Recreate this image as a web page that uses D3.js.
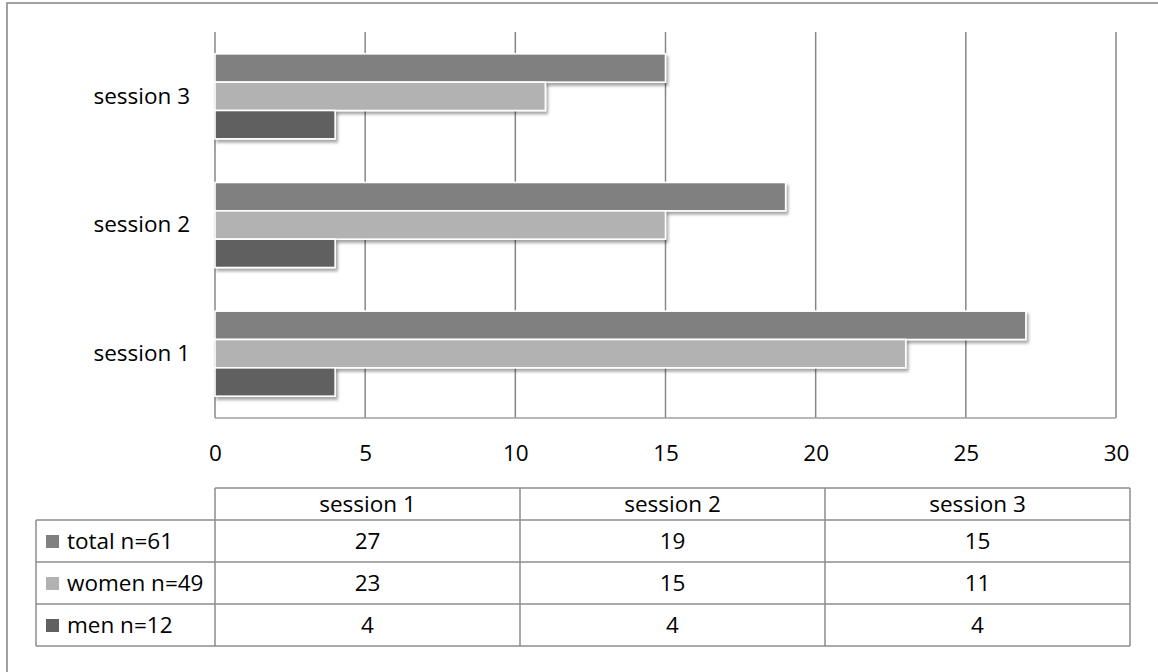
<!DOCTYPE html>
<html>
<head>
<meta charset="utf-8">
<script src="https://cdn.jsdelivr.net/npm/d3@7"></script>
<style>
  html, body { margin: 0; padding: 0; background: #fff; }
  svg { display: block; }
  text { font-family: "Open Sans", "Noto Sans", sans-serif; fill: #000; }
</style>
</head>
<body>
<svg id="chart" width="1158" height="672"></svg>
<script>
// Sessions shown on the category axis (bottom to top) and as table columns
const categories = ["session 1", "session 2", "session 3"];
// Series labels (legend / table rows), in stacking order within each band
const seriesNames = ["total n=61", "women n=49", "men n=12"];
const seriesColors = ["#808080", "#b2b2b2", "#606060"];
// Participant counts per session
const totalValues = [27, 19, 15];
const womenValues = [23, 15, 11];
const menValues = [4, 4, 4];
// Value-axis ticks
const tickValues = [0, 5, 10, 15, 20, 25, 30];

const seriesValues = [totalValues, womenValues, menValues];

const svg = d3.select("#chart");
const fontSize = 22.5;
const gridColor = "#878787";

// Drop shadow for bars
const defs = svg.append("defs");
const f = defs.append("filter").attr("id", "shadow")
  .attr("x", "-5%").attr("y", "-30%").attr("width", "115%").attr("height", "180%");
f.append("feDropShadow").attr("dx", 2).attr("dy", 3).attr("stdDeviation", 1.8)
  .attr("flood-color", "#000").attr("flood-opacity", 0.35);

// Outer chart frame
svg.append("rect").attr("x", 7).attr("y", 3).attr("width", 1160).attr("height", 700)
  .attr("fill", "none").attr("stroke", "#8a8a8a").attr("stroke-width", 1.6);

const plot = { left: 215, right: 1116, top: 32, bottom: 418 };

const x = d3.scaleLinear().domain([0, 30]).range([plot.left, plot.right]);
const y = d3.scaleBand().domain(categories.slice().reverse())
  .range([plot.top, plot.bottom]).padding(0);
const ySeries = d3.scaleBand().domain(seriesNames)
  .range([0, y.bandwidth()]).paddingInner(0).paddingOuter(0.77);

// Vertical gridlines
svg.append("g").selectAll("line").data(tickValues.filter(t => t > 0)).join("line")
  .attr("x1", d => x(d)).attr("x2", d => x(d))
  .attr("y1", plot.top).attr("y2", plot.bottom)
  .attr("stroke", gridColor).attr("stroke-width", 1.5);

// Axis lines (left and bottom)
svg.append("line").attr("x1", plot.left).attr("x2", plot.left)
  .attr("y1", plot.top).attr("y2", plot.bottom)
  .attr("stroke", gridColor).attr("stroke-width", 1.5);
svg.append("line").attr("x1", plot.left).attr("x2", plot.right)
  .attr("y1", plot.bottom).attr("y2", plot.bottom)
  .attr("stroke", "#a0a0a0").attr("stroke-width", 1.5);

// Bars
const bars = [];
categories.forEach((c, ci) => {
  seriesNames.forEach((s, si) => {
    bars.push({ cat: c, series: s, value: seriesValues[si][ci], color: seriesColors[si] });
  });
});
svg.append("g").selectAll("rect").data(bars).join("rect")
  .attr("x", x(0))
  .attr("y", d => y(d.cat) + ySeries(d.series))
  .attr("width", d => x(d.value) - x(0))
  .attr("height", ySeries.bandwidth())
  .attr("fill", d => d.color)
  .attr("stroke", "#fff").attr("stroke-width", 1.6)
  .attr("filter", "url(#shadow)");

// Category labels
const yAxis = d3.axisLeft(y).tickSize(0).tickPadding(25);
const gy = svg.append("g").attr("transform", `translate(${plot.left},0)`).call(yAxis);
gy.select(".domain").remove();
gy.selectAll("text").attr("font-size", fontSize).attr("font-family", null).attr("fill", "#000");

// Value tick labels
const xAxis = d3.axisBottom(x).tickValues(tickValues).tickSize(0).tickPadding(27);
const gx = svg.append("g").attr("transform", `translate(0,${plot.bottom})`).call(xAxis);
gx.select(".domain").remove();
gx.selectAll("text").attr("font-size", fontSize).attr("font-family", null).attr("fill", "#000");

// Data table below the plot
const table = { left: 36, colStart: 215, right: 1130, top: 488, headerBottom: 520, rowH: 42 };
const colX = d3.scaleBand().domain(categories).range([table.colStart, table.right]);
const tableColor = "#8c8c8c";
const tg = svg.append("g");

const rowTop = i => table.headerBottom + i * table.rowH;
const tableBottom = rowTop(seriesNames.length);

// Header cell borders
tg.append("line").attr("x1", table.colStart).attr("x2", table.right)
  .attr("y1", table.top).attr("y2", table.top)
  .attr("stroke", tableColor).attr("stroke-width", 1.5);
// Row lines
d3.range(seriesNames.length + 1).forEach(i => {
  tg.append("line").attr("x1", table.left).attr("x2", table.right)
    .attr("y1", rowTop(i)).attr("y2", rowTop(i))
    .attr("stroke", tableColor).attr("stroke-width", 1.5);
});
// Vertical lines
tg.append("line").attr("x1", table.left).attr("x2", table.left)
  .attr("y1", table.headerBottom).attr("y2", tableBottom)
  .attr("stroke", tableColor).attr("stroke-width", 1.5);
categories.forEach(c => {
  tg.append("line").attr("x1", colX(c)).attr("x2", colX(c))
    .attr("y1", table.top).attr("y2", tableBottom)
    .attr("stroke", tableColor).attr("stroke-width", 1.5);
});
tg.append("line").attr("x1", table.right).attr("x2", table.right)
  .attr("y1", table.top).attr("y2", tableBottom)
  .attr("stroke", tableColor).attr("stroke-width", 1.5);

// Header text
tg.selectAll("text.hdr").data(categories).join("text").attr("class", "hdr")
  .attr("x", d => colX(d) + colX.bandwidth() / 2)
  .attr("y", (table.top + table.headerBottom) / 2)
  .attr("dy", "0.35em").attr("text-anchor", "middle").attr("font-size", fontSize)
  .text(d => d);

// Legend keys and series names
seriesNames.forEach((s, si) => {
  const cy = rowTop(si) + table.rowH / 2;
  tg.append("rect").attr("x", 46).attr("y", cy - 6).attr("width", 13).attr("height", 13)
    .attr("fill", seriesColors[si]);
  tg.append("text").attr("x", 67).attr("y", cy).attr("dy", "0.35em")
    .attr("font-size", fontSize).text(s);
  categories.forEach((c, ci) => {
    tg.append("text").attr("x", colX(c) + colX.bandwidth() / 2).attr("y", cy)
      .attr("dy", "0.35em").attr("text-anchor", "middle").attr("font-size", fontSize)
      .text(seriesValues[si][ci]);
  });
});
</script>
</body>
</html>
